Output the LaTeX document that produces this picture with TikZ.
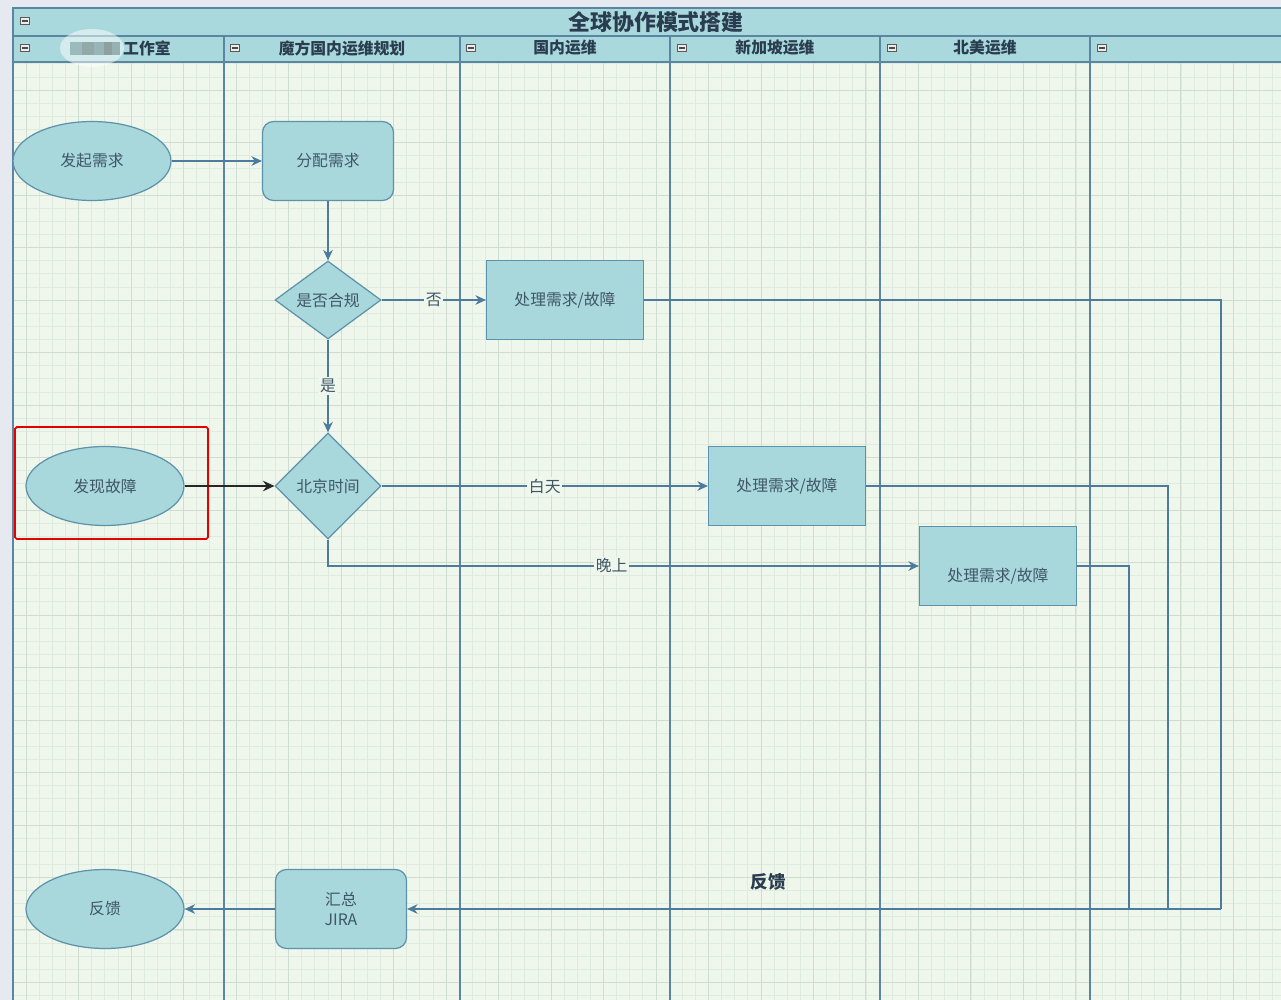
\documentclass[tikz,border=0pt]{standalone}
\usepackage{fontspec}
\setmainfont{Noto Sans CJK SC}
\usepackage{xcolor}
\usetikzlibrary{shapes.geometric,arrows.meta,positioning}

\definecolor{pagegray}{HTML}{E6EAF0}
\definecolor{bgfill}{HTML}{EFF7EC}
\definecolor{gridminor}{HTML}{E0EBDF}
\definecolor{gridmajor}{HTML}{CFDDD0}
\definecolor{headfill}{HTML}{A9D9DC}
\definecolor{laneline}{HTML}{5A85A3}
\definecolor{shapefill}{HTML}{A8D8DC}
\definecolor{shapeline}{HTML}{5E92AA}
\definecolor{flowline}{HTML}{4C7B9E}
\definecolor{shapetext}{HTML}{3F5666}
\definecolor{headtext}{HTML}{2A3C50}

\begin{document}
\begin{tikzpicture}[x=0.02cm,y=-0.02cm,
  font=\fontsize{9}{11}\selectfont,
  lane/.style={draw=laneline, line width=0.8pt},
  headlabel/.style={text=headtext, font=\fontsize{9}{10}\selectfont\bfseries},
  startend/.style={ellipse, draw=shapeline, fill=shapefill, text=shapetext,
    line width=0.7pt, minimum width=3.16cm, minimum height=1.58cm, inner sep=0pt},
  task/.style={rectangle, draw=shapeline, fill=shapefill, text=shapetext,
    line width=0.7pt, minimum width=3.14cm, minimum height=1.58cm, inner sep=0pt},
  roundtask/.style={task, rounded corners=0.22cm, minimum width=2.62cm},
  decision/.style={diamond, draw=shapeline, fill=shapefill, text=shapetext,
    line width=0.7pt, minimum width=2.12cm, minimum height=1.56cm, inner sep=0pt},
  flowarrow/.style={draw=flowline, line width=0.75pt, -{Stealth[length=6pt,width=5.5pt]}},
  flowlabel/.style={fill=bgfill, inner sep=1pt, text=shapetext},
  btn/.style={rectangle, draw=gray!70!black, fill=gray!15, line width=0.3pt,
    minimum width=0.18cm, minimum height=0.14cm, inner sep=0pt,
    path picture={\draw[gray!60!black, line width=0.6pt]
      ([xshift=1pt]path picture bounding box.west) -- ([xshift=-1pt]path picture bounding box.east);}}
]
\useasboundingbox (0,0) rectangle (1281,1000);

% Page and pool background
\fill[pagegray] (0,0) rectangle (1281,1000);
\fill[bgfill] (13,8) rectangle (1281,1000);

% Grid
\begin{scope}[shift={(26,37.5)}]
\draw[gridminor, line width=0.3pt, step=0.2625cm] (-13,24.5) grid (1255,962.5);
\draw[gridmajor, line width=0.4pt, step=1.05cm] (-13,24.5) grid (1255,962.5);
\end{scope}

% Title bar and lane headers
\fill[headfill] (13,8) rectangle (1281,62);
\draw[lane] (1281,8) -- (13,8) -- (13,1000);
\draw[lane] (13,36) -- (1281,36);
\draw[lane] (13,62) -- (1281,62);
\node[text=headtext, font=\fontsize{12.5}{14}\selectfont\bfseries] (title) at (656,22) {全球协作模式搭建};
\node[btn] (btn0) at (25,21) {};

% Lanes
\foreach \lx in {224,460,670,880,1090}
  \draw[lane] (\lx,36) -- (\lx,1000);
\foreach \bx in {25,235,471,682,892,1102}
  \node[btn] at (\bx,48) {};

% blurred part of the first lane name
\fill[white, opacity=0.5] (92,48) ellipse (32 and 19);
\fill[gray!35!headfill] (70,42) rectangle (82,55);
\fill[gray!55!headfill] (82,42) rectangle (94,55);
\fill[gray!40!headfill] (94,42) rectangle (104,55);
\fill[gray!65!headfill] (104,42) rectangle (112,55);
\fill[gray!45!headfill] (112,42) rectangle (120,55);

\node[headlabel, anchor=west] (lane1) at (117,48) {工作室};
\node[headlabel] (lane2) at (342,48) {魔方国内运维规划};
\node[headlabel] (lane3) at (565,48) {国内运维};
\node[headlabel] (lane4) at (775,48) {新加坡运维};
\node[headlabel] (lane5) at (985,48) {北美运维};

% Nodes
\node[startend] (start) at (92,161) {发起需求};
\node[roundtask] (assign) at (328,161) {分配需求};
\node[decision] (check) at (328,300) {是否合规};
\node[task] (p1) at (565,300) {处理需求/故障};
\node[startend] (fault) at (105,486) {发现故障};
\node[decision, minimum height=2.12cm] (bjtime) at (328,486) {北京时间};
\node[task] (p2) at (787,486) {处理需求/故障};
\node[task, text height=0.66cm] (p3) at (998,566) {处理需求/故障};
\node[startend] (feedback) at (105,909) {反馈};
\node[roundtask, align=center] (jira) at (341,909) {汇总\\JIRA};

% Highlight
\draw[red!90!black, line width=1pt, rounded corners=1pt] (15,427) rectangle (208,539);

% Connectors
\coordinate (c1) at (1221,909);
\coordinate (c2) at (1168,909);
\coordinate (c3) at (1129,909);

\draw[flowarrow] (start) -- (assign);
\draw[flowarrow] (assign) -- (check);
\draw[flowarrow] (check) -- node[flowlabel, pos=0.5] {否} (p1);
\draw[flowarrow] (check) -- node[flowlabel, pos=0.5] {是} (bjtime);
\draw[line width=0.75pt, black!85, -{Stealth[length=6.5pt,width=6pt]}] (fault) -- (bjtime);
\draw[flowarrow] (bjtime) -- node[flowlabel, pos=0.5] {白天} (p2);
\draw[flowarrow] (bjtime.south) |- node[flowlabel, pos=0.74] {晚上} (p3.west);
\draw[draw=flowline, line width=0.75pt] (p1.east) -| (c1);
\draw[draw=flowline, line width=0.75pt] (p2.east) -| (c2);
\draw[draw=flowline, line width=0.75pt] (p3.east) -| (c3);
\draw[flowarrow] (c1) -- (jira);
\draw[flowarrow] (jira) -- (feedback);

\node[text=headtext, font=\fontsize{10}{12}\selectfont\bfseries] (fblabel) at (768,882) {反馈};
\end{tikzpicture}
\end{document}
